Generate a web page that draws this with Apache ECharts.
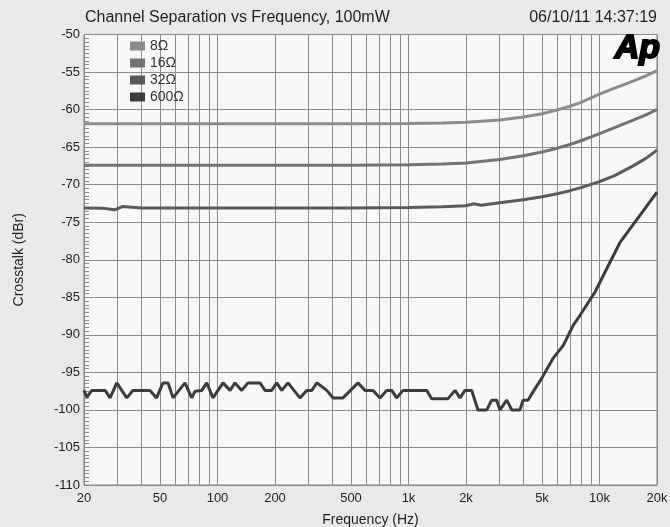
<!DOCTYPE html>
<html>
<head>
<meta charset="utf-8">
<script src="https://cdn.jsdelivr.net/npm/echarts@6/dist/echarts.min.js"></script>
<style>
html,body{margin:0;padding:0;background:#e9e9e9;}
#c{width:670px;height:527px;}
</style>
</head>
<body>
<div id="c"></div>
<script>
// ---- data ----
var titleText = 'Channel Separation vs Frequency, 100mW';
var dateText = '06/10/11 14:37:19';
var seriesNames = ['8\u03a9', '16\u03a9', '32\u03a9', '600\u03a9'];

var freqHi = [20, 50, 100, 200, 500, 1000, 1500, 2000, 3000, 4000, 5000, 6000, 7000, 8000, 10000, 12000, 15000, 17500, 20000];
var ohm8  = [-61.9, -61.9, -61.9, -61.9, -61.9, -61.85, -61.8, -61.7, -61.4, -61.0, -60.55, -60.05, -59.55, -59.05, -57.95, -57.15, -56.2, -55.5, -54.8];
var ohm16 = [-67.4, -67.4, -67.4, -67.4, -67.4, -67.35, -67.25, -67.1, -66.65, -66.15, -65.65, -65.15, -64.65, -64.15, -63.2, -62.4, -61.4, -60.7, -60.0];

var freq32 = [20, 25, 29, 32, 40, 60, 100, 200, 500, 1000, 1500, 2000, 2200, 2400, 3000, 4000, 5000, 6000, 7000, 8000, 10000, 12000, 15000, 17500, 20000];
var ohm32  = [-73.1, -73.15, -73.35, -72.9, -73.1, -73.1, -73.1, -73.1, -73.1, -73.05, -72.95, -72.8, -72.55, -72.75, -72.4, -72.0, -71.6, -71.2, -70.8, -70.4, -69.6, -68.8, -67.5, -66.5, -65.4];

var freq600 = [20, 20.7, 22, 25.8, 27.4, 29.7, 33.5, 36.1, 44.3, 48, 51.8, 55.1, 58.5, 67.6, 73.3, 76.3, 82.7, 87.8, 94.7,
  106.9, 116.3, 123.5, 133.9, 144.4, 166.9, 177.3, 192.2, 204.1, 216.8, 233.9, 270.4, 293.1, 311.3, 331.9, 373.1, 402.6,
  454, 544, 592, 652, 709, 769, 817, 867, 936, 1245, 1322, 1610, 1752, 1860, 1976, 2142, 2311, 2567, 2727, 2896, 3013,
  3268, 3471, 3834, 3976, 4222, 4485, 4981, 5724, 6463, 7293, 7909, 9475, 10906, 12805, 15960, 20000];
var ohm600 = [-97.4, -98.3, -97.4, -97.4, -98.4, -96.4, -98.4, -97.4, -97.4, -98.4, -96.4, -96.4, -98.4, -96.4, -98.4, -97.5, -97.4, -96.4, -98.4,
  -96.4, -97.4, -96.4, -97.4, -96.4, -96.4, -97.4, -97.4, -96.4, -97.4, -96.4, -98.4, -97.4, -97.4, -96.4, -97.4, -98.4,
  -98.4, -96.4, -97.4, -97.4, -98.4, -97.4, -97.4, -98.4, -97.4, -97.4, -98.5, -98.5, -97.4, -98.4, -97.4, -97.4, -100.0, -100.0, -98.7, -98.7, -100.0,
  -98.7, -100.0, -100.0, -98.7, -98.7, -97.6, -95.8, -93.1, -91.4, -88.7, -87.4, -84.3, -81.2, -77.7, -74.4, -71.0];

var xLabelValues = [20, 50, 100, 200, 500, 1000, 2000, 5000, 10000, 20000];
var xGridValues = [20, 30, 40, 50, 60, 70, 80, 90, 100, 200, 300, 400, 500, 600, 700, 800, 900,
  1000, 2000, 3000, 4000, 5000, 6000, 7000, 8000, 9000, 10000, 20000];
var yMin = -110, yMax = -50, yStep = 5;

var colors = ['#8c8c8c', '#737373', '#5a5a5a', '#3c3c3c'];

function pairs(xs, ys) { return xs.map(function (x, i) { return [x, ys[i]]; }); }
var seriesData = [pairs(freqHi, ohm8), pairs(freqHi, ohm16), pairs(freq32, ohm32), pairs(freq600, ohm600)];

var chart = echarts.init(document.getElementById('c'), null, {renderer: 'canvas'});
var font = "'Liberation Sans', Arial, sans-serif";

chart.setOption({
  backgroundColor: '#e9e9e9',
  animation: false,
  textStyle: {fontFamily: font},
  grid: {left: 84, right: 13, top: 34.5, bottom: 42, show: true, backgroundColor: '#f8f8f8',
         borderColor: '#808080', borderWidth: 1, containLabel: false, outerBoundsMode: 'none'},
  title: [
    {text: titleText, left: 80, top: 5, textStyle: {fontSize: 16, fontWeight: 'normal', color: '#1e1e1e', fontFamily: font}},
    {text: dateText, right: 8, top: 5, textStyle: {fontSize: 16, fontWeight: 'normal', color: '#1e1e1e', fontFamily: font}}
  ],
  legend: {
    orient: 'vertical', left: 125, top: 34, itemWidth: 15, itemHeight: 9, itemGap: 3,
    icon: 'rect', data: seriesNames,
    textStyle: {fontSize: 14, color: '#333', fontFamily: font}
  },
  xAxis: {
    type: 'log', logBase: 10, min: 20, max: 20000,
    name: 'Frequency (Hz)', nameLocation: 'middle', nameGap: 28,
    nameTextStyle: {fontSize: 14, color: '#1e1e1e'},
    axisLine: {show: false},
    axisTick: {show: false, customValues: xGridValues},
    axisLabel: {
      customValues: xLabelValues, margin: 7, fontSize: 13, color: '#1e1e1e',
      formatter: function (v) { v = Math.round(v); return v >= 1000 ? (v / 1000) + 'k' : String(v); }
    },
    splitLine: {show: true, lineStyle: {color: '#8a8a8a', width: 1}},
    minorTick: {show: false}, minorSplitLine: {show: false}
  },
  yAxis: {
    type: 'value', min: yMin, max: yMax, interval: yStep,
    name: 'Crosstalk (dBr)', nameLocation: 'middle', nameGap: 58,
    nameTextStyle: {fontSize: 14, color: '#1e1e1e'},
    axisLine: {show: false},
    axisTick: {show: false, inside: true, length: 5},
    minorTick: {show: true, splitNumber: 10, length: 5, lineStyle: {color: '#8a8a8a', width: 1}},
    axisLabel: {margin: 4, fontSize: 13, color: '#1e1e1e'},
    splitLine: {show: true, lineStyle: {color: '#8a8a8a', width: 1}}
  },
  graphic: [
    {type: 'text', right: 9, top: 31, z: 100,
     style: {text: 'Ap', fontSize: 34, fontWeight: 'bold', fontStyle: 'italic', fontFamily: font,
             fill: '#000', stroke: '#000', lineWidth: 2}}
  ],
  series: seriesNames.map(function (n, i) {
    return {
      name: n, type: 'line', data: seriesData[i], showSymbol: false, symbol: 'none',
      color: colors[i], lineStyle: {width: 3, color: colors[i]}, z: 3 + i
    };
  })
});
</script>
</body>
</html>
